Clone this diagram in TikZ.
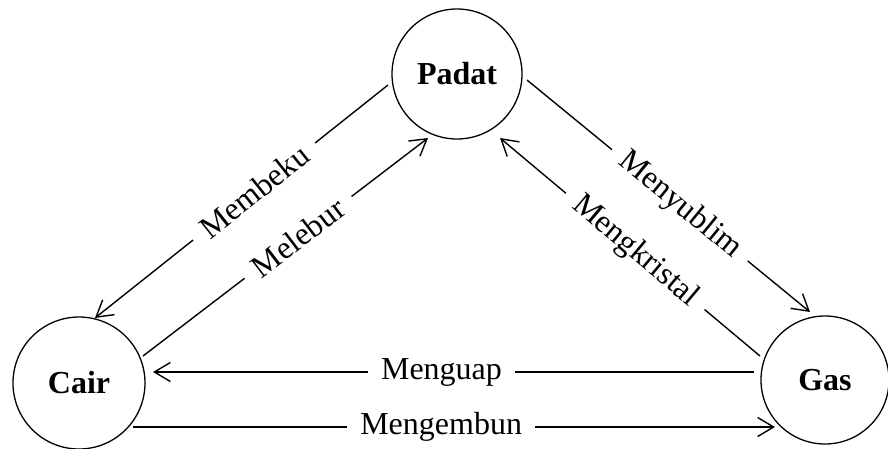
\documentclass[tikz,border=0pt]{standalone}
\usepackage{fontspec}
\setmainfont{Liberation Serif}
\usetikzlibrary{arrows.meta,calc}
\begin{document}
\begin{tikzpicture}[x=1pt,y=-1pt,
  state/.style={circle,draw,line width=1.3pt,minimum size=#1,inner sep=0pt,font=\fontsize{32}{38}\selectfont\bfseries},
  conn/.style={line width=1.4pt,-{Straight Barb[length=16pt,width=19pt,line width=1.4pt]}},
  lbl/.style={fill=white,inner xsep=13pt,inner ysep=2pt,font=\fontsize{32}{38}\selectfont}]
\useasboundingbox (0,0) rectangle (888,448);
\fill[white] (0,0) rectangle (888,448);
\node[state=130pt] (padat) at (457,74) {Padat};
\node[state=132pt] (cair) at (79,383) {Cair};
\node[state=128pt] (gas) at (825,380) {Gas};
\draw[conn] ($(padat)+(-69,11)$) -- node[lbl,sloped,pos=0.457]{Membeku} ($(cair)+(16,-65)$);
\draw[conn] ($(cair)+(64,-27)$) -- node[lbl,sloped,pos=0.544]{Melebur} ($(padat)+(-29,64)$);
\draw[conn] ($(padat)+(70,6)$) -- node[lbl,sloped,pos=0.54]{Menyublim} ($(gas)+(-15,-68)$);
\draw[conn] ($(gas)+(-65,-24)$) -- node[lbl,sloped,pos=0.48]{Mengkristal} ($(padat)+(43,64)$);
\draw[conn] ($(gas)+(-71,-8)$) -- node[lbl,pos=0.52]{Menguap} ($(cair)+(74,-11)$);
\draw[conn] ($(cair)+(54,44)$) -- node[lbl,pos=0.48]{Mengembun} ($(gas)+(-50,47)$);
\end{tikzpicture}
\end{document}
